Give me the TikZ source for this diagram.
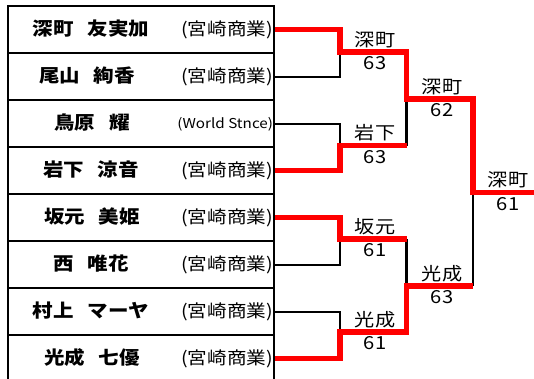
\documentclass[tikz,border=0pt]{standalone}
\usepackage{fontspec}
\newfontfamily\jp[FakeStretch=1.12]{Noto Sans CJK JP}
\usetikzlibrary{calc}
\begin{document}
\begin{tikzpicture}[x=1pt,y=-1pt,
  cell/.style={draw=black, line width=2.2pt, minimum width=266pt, minimum height=47pt, inner sep=0pt, anchor=north west},
  namet/.style={font=\jp\bfseries\fontsize{18.3}{18.3}\selectfont, anchor=base, inner sep=0pt},
  schoolt/.style={font=\jp\fontsize{17.5}{17.5}\selectfont, anchor=base east, inner sep=0pt},
  smallschool/.style={font=\jp\fontsize{13.6}{13.6}\selectfont, anchor=base east, inner sep=0pt},
  lbl/.style={font=\jp\fontsize{18}{18}\selectfont, anchor=base, inner sep=0pt},
  lose/.style={draw=black, line width=2.2pt},
  win/.style={draw=red, line width=5.5pt}]
\useasboundingbox (0,0) rectangle (534,378);

% table rows
\node[cell] (row1) at (7,5) {};
\node[cell] (row2) at (7,52) {};
\node[cell] (row3) at (7,99) {};
\node[cell] (row4) at (7,146) {};
\node[cell] (row5) at (7,193) {};
\node[cell] (row6) at (7,240) {};
\node[cell] (row7) at (7,287) {};
\node[cell] (row8) at (7,334) {};

% names
\node[namet] (n1) at ($(row1.west)+(84,6)$) {深町\hspace{0.75em}友実加};
\node[namet] (n2) at ($(row2.west)+(80,6)$) {尾山\hspace{0.75em}絢香};
\node[namet] (n3) at ($(row3.west)+(85,6)$) {鳥原\hspace{0.75em}耀};
\node[namet] (n4) at ($(row4.west)+(84,6)$) {岩下\hspace{0.75em}涼音};
\node[namet] (n5) at ($(row5.west)+(85,6)$) {坂元\hspace{0.75em}美姫};
\node[namet] (n6) at ($(row6.west)+(84,6)$) {西\hspace{0.75em}唯花};
\node[namet] (n7) at ($(row7.west)+(84,6)$) {村上\hspace{0.75em}マーヤ};
\node[namet] (n8) at ($(row8.west)+(85,6)$) {光成\hspace{0.75em}七優};

% schools
\node[schoolt] (s1) at ($(row1.east)+(-2,5.5)$) {(宮崎商業)};
\node[schoolt] (s2) at ($(row2.east)+(-2,5.5)$) {(宮崎商業)};
\node[smallschool] (s3) at ($(row3.east)+(-2,4.5)$) {(World Stnce)};
\node[schoolt] (s4) at ($(row4.east)+(-2,5.5)$) {(宮崎商業)};
\node[schoolt] (s5) at ($(row5.east)+(-2,5.5)$) {(宮崎商業)};
\node[schoolt] (s6) at ($(row6.east)+(-2,5.5)$) {(宮崎商業)};
\node[schoolt] (s7) at ($(row7.east)+(-2,5.5)$) {(宮崎商業)};
\node[schoolt] (s8) at ($(row8.east)+(-2,5.5)$) {(宮崎商業)};

% bracket junctions
\coordinate (j1) at (340,52);
\coordinate (j2) at (340,145.5);
\coordinate (j3) at (340,239);
\coordinate (j4) at (340,332);
\coordinate (k1) at (406.5,99);
\coordinate (k2) at (406.5,286);
\coordinate (f) at (473,192.5);
\coordinate (fend) at (534,192.5);

% losing lines
\draw[lose] (row2.east) -| (j1);
\draw[lose] (row3.east) -| (j2);
\draw[lose] (j2 -| k1) -- (k1);
\draw[lose] (row6.east) -| (j3);
\draw[lose] (j3 -| k2) -- (k2);
\draw[lose] (row7.east) -| (j4);
\draw[lose] (k2 -| f) -- (f);

% winning lines
\draw[win] (row1.east) -| (j1) -- (j1 -| k1) -- (k1) -- (k1 -| f) -- (f) -- (fend);
\draw[win] (row4.east) -| (j2) -- (j2 -| k1);
\draw[win] (row5.east) -| (j3) -- (j3 -| k2);
\draw[win] (row8.east) -| (j4) -- (j4 -| k2) -- (k2) -- (k2 -| f);

% labels
\node[lbl] (a1) at ($(j1)+(35,-6)$) {深町};
\node[lbl] (a1s) at ($(j1)+(35,17.5)$) {63};
\node[lbl] (a2) at ($(j2)+(35,-6)$) {岩下};
\node[lbl] (a2s) at ($(j2)+(35,17.5)$) {63};
\node[lbl] (a3) at ($(j3)+(35,-6)$) {坂元};
\node[lbl] (a3s) at ($(j3)+(35,17.5)$) {61};
\node[lbl] (a4) at ($(j4)+(35,-6)$) {光成};
\node[lbl] (a4s) at ($(j4)+(35,17.5)$) {61};
\node[lbl] (b1) at ($(k1)+(35.5,-6)$) {深町};
\node[lbl] (b1s) at ($(k1)+(35.5,17.5)$) {62};
\node[lbl] (b2) at ($(k2)+(35.5,-6)$) {光成};
\node[lbl] (b2s) at ($(k2)+(35.5,17.5)$) {63};
\node[lbl] (c1) at ($(f)+(35,-6)$) {深町};
\node[lbl] (c1s) at ($(f)+(35,17.5)$) {61};
\end{tikzpicture}
\end{document}
